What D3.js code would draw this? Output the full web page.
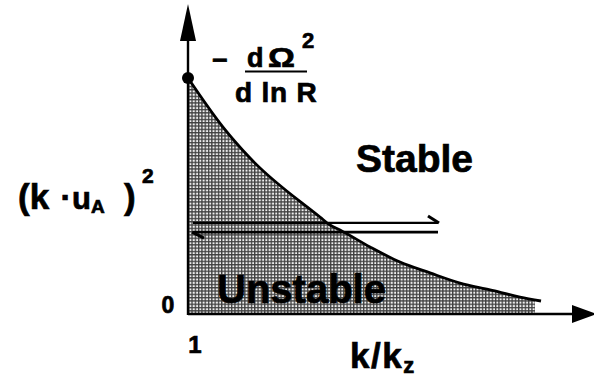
<!DOCTYPE html>
<html>
<head>
<meta charset="utf-8">
<script src="https://cdn.jsdelivr.net/npm/d3@7/dist/d3.min.js"></script>
<style>
  html, body { margin: 0; padding: 0; background: #fff; }
  svg { display: block; }
  text { font-family: "Liberation Sans", Arial, Helvetica, sans-serif; font-weight: bold; fill: #000;
         stroke: #000; stroke-width: 0.7px; }
</style>
</head>
<body>
<svg id="chart" width="594" height="379"></svg>
<script>
// Marginal stability curve: (k·u_A)^2 against k/k_z, normalised so the
// value at k/k_z = 1 equals -dΩ²/d ln R.
const kRatio = [1.00, 1.35, 1.62, 2.32, 2.42, 2.52, 2.82, 3.12, 3.42, 3.72, 4.02, 4.32, 4.53];
const kuA2   = [1.000, 0.792, 0.661, 0.411, 0.377, 0.356, 0.284, 0.220, 0.174, 0.131, 0.102, 0.072, 0.055];

const xTickLabels = ["1"];
const yTickLabels = ["0"];

// Horizontal two-way arrows through the unstable band
const arrowLevels = [0.386, 0.347];
const arrowSpan = [1.05, 3.50];
const shadeEnd = 4.47;

const svg = d3.select("#chart");
const x = d3.scaleLinear().domain([1, 5.06]).range([188, 594]);
const y = d3.scaleLinear().domain([0, 1]).range([314, 78]);

const pts = kRatio.map((k, i) => [k, kuA2[i]]);

// halftone-like screen for the unstable region
const defs = svg.append("defs");
const pat = defs.append("pattern")
  .attr("id", "screen").attr("patternUnits", "userSpaceOnUse")
  .attr("width", 3.3).attr("height", 3.3);
pat.append("rect").attr("width", 3.3).attr("height", 3.3).attr("fill", "#f0f0f0");
pat.append("rect").attr("width", 3.3).attr("height", 1.3).attr("fill", "#404040");
pat.append("rect").attr("width", 1.3).attr("height", 3.3).attr("fill", "#404040");

defs.append("clipPath").attr("id", "shadeClip")
  .append("rect")
  .attr("x", x(1)).attr("y", 0)
  .attr("width", x(shadeEnd) - x(1)).attr("height", y(0));

const area = d3.area()
  .x(d => x(d[0])).y0(y(0)).y1(d => y(d[1]))
  .curve(d3.curveMonotoneX);
svg.append("path").datum(pts)
  .attr("d", area)
  .attr("fill", "url(#screen)")
  .attr("clip-path", "url(#shadeClip)");

// axes
const axisStroke = 2.4;
svg.append("line")
  .attr("x1", x(1)).attr("x2", 574).attr("y1", y(0)).attr("y2", y(0))
  .attr("stroke", "#000").attr("stroke-width", axisStroke);
svg.append("path")
  .attr("d", `M572,${y(0) - 9} L597,${y(0)} L572,${y(0) + 9} Z`)
  .attr("fill", "#000");
svg.append("line")
  .attr("x1", x(1)).attr("x2", x(1)).attr("y1", y(0) + 1).attr("y2", 38)
  .attr("stroke", "#000").attr("stroke-width", axisStroke);
svg.append("path")
  .attr("d", `M${x(1) - 8},41 L${x(1)},4 L${x(1) + 8},41 Z`)
  .attr("fill", "#000");

// curve
const line = d3.line().x(d => x(d[0])).y(d => y(d[1])).curve(d3.curveMonotoneX);
svg.append("path").datum(pts)
  .attr("d", line)
  .attr("fill", "none").attr("stroke", "#000").attr("stroke-width", 2.8);
svg.append("circle")
  .attr("cx", x(kRatio[0])).attr("cy", y(kuA2[0])).attr("r", 6)
  .attr("fill", "#000");

// two-way harpoon arrows
const [upper, lower] = arrowLevels;
const ax0 = x(arrowSpan[0]), ax1 = x(arrowSpan[1]);
svg.append("line").attr("x1", ax0).attr("x2", ax1)
  .attr("y1", y(upper)).attr("y2", y(upper))
  .attr("stroke", "#000").attr("stroke-width", 2.4);
svg.append("path")
  .attr("d", `M${ax1 + 1},${y(upper)} L${ax1 - 10},${y(upper) - 7}`)
  .attr("stroke", "#000").attr("stroke-width", 3).attr("fill", "none");
svg.append("line").attr("x1", ax0).attr("x2", ax1)
  .attr("y1", y(lower)).attr("y2", y(lower))
  .attr("stroke", "#000").attr("stroke-width", 2.8);
svg.append("path")
  .attr("d", `M${ax0 - 1},${y(lower)} L${ax0 + 11},${y(lower) + 6}`)
  .attr("stroke", "#000").attr("stroke-width", 3).attr("fill", "none");

// tick labels
svg.append("text").attr("x", x(1) + 7).attr("y", 353)
  .attr("text-anchor", "middle").attr("font-size", 24).text(xTickLabels[0]);
svg.append("text").attr("x", 168).attr("y", y(0) - 1)
  .attr("text-anchor", "middle").attr("font-size", 23).text(yTickLabels[0]);

// region labels
svg.append("text").attr("x", 356).attr("y", 172).attr("font-size", 39).text("Stable");
svg.append("text").attr("x", 217).attr("y", 303).attr("font-size", 40).text("Unstable");

// axis titles
const xt = svg.append("text").attr("x", 350).attr("y", 368).attr("font-size", 35)
  .attr("letter-spacing", 1.5);
xt.append("tspan").text("k/k");
xt.append("tspan").attr("font-size", 22).attr("dy", 5).text("z");

const yt = svg.append("g");
yt.append("text").attr("x", 18).attr("y", 209).attr("font-size", 35).text("(k");
yt.append("text").attr("x", 66).attr("y", 209).attr("font-size", 33).attr("text-anchor", "middle").text("·");
yt.append("text").attr("x", 72).attr("y", 209).attr("font-size", 31).text("u");
yt.append("text").attr("x", 91).attr("y", 213).attr("font-size", 19).text("A");
yt.append("text").attr("x", 124).attr("y", 209).attr("font-size", 35).text(")");
yt.append("text").attr("x", 142).attr("y", 183).attr("font-size", 21).text("2");

// value at the origin: -dΩ²/d ln R
const fr = svg.append("g");
fr.append("text").attr("x", 220).attr("y", 69).attr("font-size", 27).attr("text-anchor", "middle").text("\u2212");
fr.append("text").attr("x", 247).attr("y", 67).attr("font-size", 27).text("d");
fr.append("text").attr("x", 268).attr("y", 67).attr("font-size", 28)
  .attr("transform", "translate(268,67) scale(1.2,1) translate(-268,-67)").text("\u03A9");
fr.append("text").attr("x", 302).attr("y", 48).attr("font-size", 22).text("2");
fr.append("line").attr("x1", 245).attr("x2", 307).attr("y1", 71.5).attr("y2", 71.5)
  .attr("stroke", "#000").attr("stroke-width", 2);
fr.append("text").attr("x", 235).attr("y", 102).attr("font-size", 28).attr("letter-spacing", 0.8).text("d ln R");
</script>
</body>
</html>
